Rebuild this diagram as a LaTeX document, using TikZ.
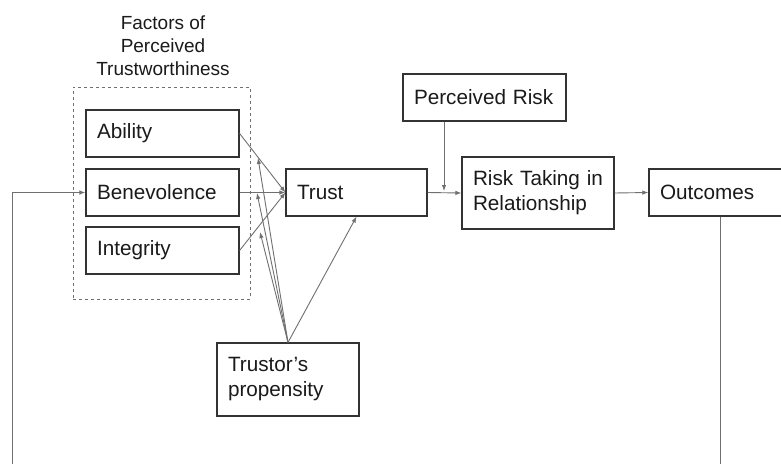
\documentclass[tikz,border=0pt]{standalone}
\usepackage{fontspec}
\setmainfont{Liberation Sans}
\usetikzlibrary{arrows.meta}
\definecolor{boxline}{HTML}{333333}
\definecolor{arrline}{HTML}{707070}
\definecolor{txt}{HTML}{1A1A1A}
\begin{document}
\begin{tikzpicture}[x=1pt,y=-1pt,
  box/.style={draw=boxline, line width=1.2pt, inner xsep=11pt, inner ysep=0pt,
    text=txt, align=left, font=\fontsize{20.7}{25}\selectfont, anchor=center},
  arr/.style={draw=arrline, line width=0.9pt, -{Latex[length=6pt,width=4.5pt]}}]
\useasboundingbox (0,0) rectangle (781,463);
\clip (0,0) rectangle (781,463);
\fill[white] (0,0) rectangle (781,463);
% title and group
\node[text=txt, align=center, font=\fontsize{19}{23}\selectfont] (title) at (163,46)
  {Factors of\\Perceived\\Trustworthiness};
\node[draw=arrline, dashed, line width=0.9pt, minimum width=177pt, minimum height=212pt, inner sep=0pt] (group) at (161.5,193) {};
% boxes
\node[box, minimum width=153pt, minimum height=47pt, text width=131pt] (ability) at (162.5,133.5) {Ability};
\node[box, minimum width=153pt, minimum height=47pt, text width=131pt] (bene) at (162.5,192.5) {Benevolence};
\node[box, minimum width=153pt, minimum height=47pt, text width=131pt] (integ) at (162.5,250.5) {Integrity};
\node[box, minimum width=141pt, minimum height=47pt, text width=119pt] (trust) at (356.5,192.5) {Trust};
\node[box, minimum width=163pt, minimum height=47pt, text width=141pt] (prisk) at (484.5,97.5) {Perceived Risk};
\node[box, minimum width=152pt, minimum height=72pt, text width=130pt] (risk) at (538,193) {Risk Taking in\\Relationship};
\node[box, minimum width=170pt, minimum height=47pt, text width=148pt] (outc) at (734,192.5) {Outcomes};
\node[box, minimum width=142pt, minimum height=73pt, text width=120pt] (prop) at (288,379.5) {Trustor’s\\propensity};
% coordinates
\coordinate (pa) at (258,158);
\coordinate (pb) at (257,193);
\coordinate (pc) at (260,232);
\coordinate (prtip) at (444,191);
\coordinate (fbR) at (720,490);
\coordinate (fbL) at (12,490);
% connectors
\draw[arr] (ability.east) -- (trust.west);
\draw[arr] (bene.east) -- (trust.west);
\draw[arr] (integ.east) -- (trust.west);
\draw[arr] (prop.north) -- (pa);
\draw[arr] (prop.north) -- (pb);
\draw[arr] (prop.north) -- (pc);
\draw[arr] (prop.north) -- (trust.south);
\draw[arr] (prisk.south -| prtip) -- (prtip);
\draw[arr] (trust.east) -- (risk.west);
\draw[arr] (risk.east) -- (outc.west);
\draw[arr] (outc.south -| fbR) -- (fbR) -- (fbL) -- (fbL |- bene.west) -- (bene.west);
\end{tikzpicture}
\end{document}
